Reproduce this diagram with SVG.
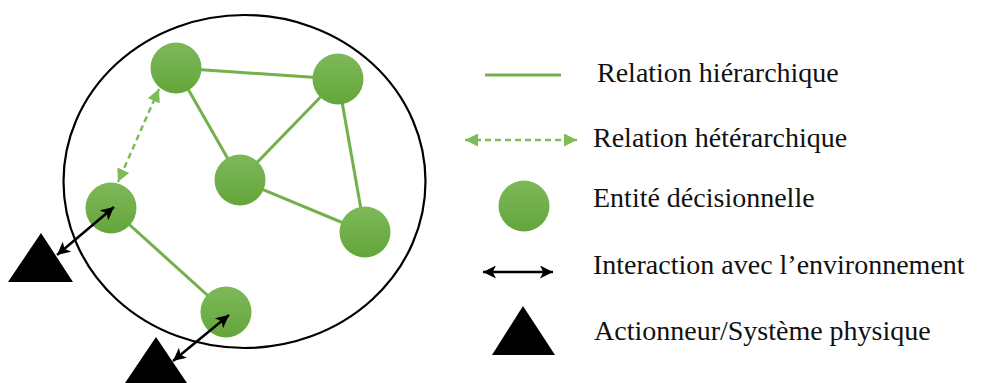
<svg xmlns="http://www.w3.org/2000/svg" width="993" height="383" viewBox="0 0 993 383">
<style>
.edge{stroke:#72b04a;stroke-width:3;fill:none}
.het{stroke:#7dbd57;stroke-width:2.5;stroke-dasharray:6 4;fill:none}
.inter{stroke:#000;stroke-width:2.5;fill:none}
.node{fill:url(#g)}
.tri{fill:#000}
</style>
<defs>
<linearGradient id="g" x1="0" y1="0" x2="0" y2="1">
<stop offset="0" stop-color="#7db85a"/>
<stop offset="1" stop-color="#64a63a"/>
</linearGradient>
<marker id="ga" viewBox="0 0 10 10" refX="10" refY="5" markerWidth="13" markerHeight="13" markerUnits="userSpaceOnUse" orient="auto-start-reverse">
<path d="M0,0 L10,5 L0,10 z" fill="#7dbd57"/>
</marker>
<marker id="ba" viewBox="0 0 10 10" refX="10" refY="5" markerWidth="14" markerHeight="13" markerUnits="userSpaceOnUse" orient="auto-start-reverse">
<path d="M0,0 L10,5 L0,10 L2.5,5 z" fill="#000"/>
</marker>
</defs>
<rect width="993" height="383" fill="#fff"/>
<ellipse cx="244.5" cy="181.5" rx="181" ry="166.5" fill="none" stroke="#000" stroke-width="2.2"/>
<g id="connectors">
<line class="edge" x1="176" y1="68" x2="338" y2="79"/>
<line class="edge" x1="176" y1="68" x2="240" y2="180"/>
<line class="edge" x1="338" y1="79" x2="240" y2="180"/>
<line class="edge" x1="338" y1="79" x2="365" y2="232"/>
<line class="edge" x1="240" y1="180" x2="365" y2="232"/>
<line class="edge" x1="111" y1="208" x2="226" y2="312"/>
<line class="het" x1="159" y1="89" x2="118" y2="182" marker-start="url(#ga)" marker-end="url(#ga)"/>
</g>
<g id="n1"><circle class="node" cx="176" cy="68" r="25.5"/></g>
<g id="n2"><circle class="node" cx="338" cy="79" r="25.5"/></g>
<g id="n3"><circle class="node" cx="240" cy="180" r="25.5"/></g>
<g id="n4"><circle class="node" cx="365" cy="232" r="25.5"/></g>
<g id="n5"><circle class="node" cx="111" cy="208" r="25.5"/></g>
<g id="n6"><circle class="node" cx="226" cy="312" r="25.5"/></g>
<g id="t1"><polygon class="tri" points="41,233 8,282 73,282"/></g>
<g id="t2"><polygon class="tri" points="156,337 123,386 189,386"/></g>
<g id="interactions">
<line class="inter" x1="57" y1="255" x2="114" y2="207" marker-start="url(#ba)" marker-end="url(#ba)"/>
<line class="inter" x1="173" y1="361" x2="229" y2="315" marker-start="url(#ba)" marker-end="url(#ba)"/>
</g>
<g id="legend">
<line class="edge" x1="485" y1="75" x2="561" y2="75"/>
<text x="597" y="82" style="font-family:'Liberation Serif',serif;font-size:28px;fill:#111">Relation hiérarchique</text>
<line class="het" x1="465" y1="140" x2="577" y2="140" marker-start="url(#ga)" marker-end="url(#ga)"/>
<text x="593" y="147" style="font-family:'Liberation Serif',serif;font-size:28px;fill:#111">Relation hétérarchique</text>
<circle class="node" cx="524" cy="206" r="25.5"/>
<text x="593" y="207" style="font-family:'Liberation Serif',serif;font-size:28px;fill:#111">Entité décisionnelle</text>
<line class="inter" x1="483" y1="272" x2="553" y2="272" marker-start="url(#ba)" marker-end="url(#ba)"/>
<text x="593" y="274" style="font-family:'Liberation Serif',serif;font-size:28px;fill:#111">Interaction avec l’environnement</text>
<polygon class="tri" points="523,306 492,355 555,355"/>
<text x="594" y="340" style="font-family:'Liberation Serif',serif;font-size:28px;fill:#111">Actionneur/Système physique</text>
</g>
</svg>
